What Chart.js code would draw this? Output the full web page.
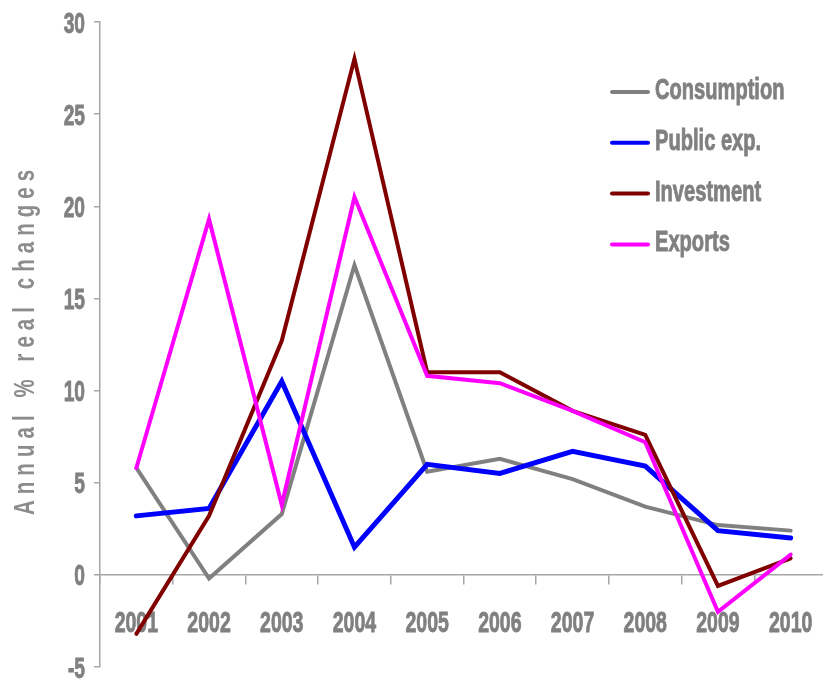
<!DOCTYPE html>
<html>
<head>
<meta charset="utf-8">
<script src="https://cdn.jsdelivr.net/npm/chart.js@4"></script>
<style>
  html, body { margin: 0; padding: 0; overflow: hidden; background: #fff; }
  canvas { display: block; }
</style>
</head>
<body>
<canvas id="c" width="840" height="679"></canvas>
<script>
// Annual % real changes of demand components, 2001-2010
const years = ['2001', '2002', '2003', '2004', '2005', '2006', '2007', '2008', '2009', '2010'];
const consumption = [5.8, -0.2, 3.3, 16.8, 5.6, 6.3, 5.2, 3.7, 2.7, 2.4];
const publicExp   = [3.2, 3.6, 10.5, 1.5, 6.0, 5.5, 6.7, 5.9, 2.4, 2.0];
const investment  = [-3.2, 3.2, 12.7, 28.0, 11.0, 11.0, 8.9, 7.6, -0.6, 0.9];
const exportsData = [5.8, 19.3, 3.8, 20.5, 10.8, 10.4, 8.9, 7.2, -2.0, 1.1];
const yMin = -5, yMax = 30, yStep = 5;
const yTitle = 'Annual % real changes';

const TEXT_GREY = '#808080';
const AXIS_GREY = '#a6a6a6';
const BOLD_FONT = 'bold 30px "Liberation Sans", Arial, sans-serif';

// Draw text squeezed horizontally (narrow heavy look)
function condensed(ctx, text, x, y, sx, align) {
  ctx.save();
  ctx.translate(x, y);
  ctx.scale(sx, 1);
  ctx.textAlign = align;
  ctx.textBaseline = 'alphabetic';
  ctx.fillText(text, 0, 0);
  ctx.strokeStyle = ctx.fillStyle;
  ctx.lineWidth = 0.9;
  ctx.strokeText(text, 0, 0);
  ctx.restore();
}

const axisText = {
  id: 'axisText',
  beforeDatasetsDraw(chart) {
    const ctx = chart.ctx;
    const xs = chart.scales.x, ys = chart.scales.y;
    const zeroY = ys.getPixelForValue(0);
    ctx.save();
    ctx.fillStyle = TEXT_GREY;
    ctx.font = BOLD_FONT;
    // value labels on the y axis
    ys.ticks.forEach(t => {
      condensed(ctx, String(t.value), 85, ys.getPixelForValue(t.value) + 10.5, 0.64, 'right');
    });
    // year labels below the zero line
    chart.data.labels.forEach((lab, i) => {
      condensed(ctx, lab, xs.getPixelForValue(i), zeroY + 57, 0.65, 'center');
    });
    // rotated, widely spaced axis title with narrow glyphs
    ctx.font = BOLD_FONT;
    ctx.fillStyle = '#8c8c8c';
    ctx.translate(33.5, 515);
    ctx.rotate(-Math.PI / 2);
    ctx.textAlign = 'left';
    ctx.textBaseline = 'alphabetic';
    const squeeze = 0.68;
    const chars = Array.from(yTitle);
    const widths = chars.map(ch => ctx.measureText(ch).width * squeeze);
    const total = 345;
    const gap = (total - widths.reduce((a, b) => a + b, 0)) / (chars.length - 1);
    let pos = 0;
    chars.forEach((ch, i) => {
      ctx.save();
      ctx.translate(pos, 0);
      ctx.scale(squeeze, 1);
      ctx.fillText(ch, 0, 0);
      ctx.restore();
      pos += widths[i] + gap;
    });
    ctx.restore();
  },
  afterDraw(chart) {
    // legend in the upper right corner
    const ctx = chart.ctx;
    ctx.save();
    chart.data.datasets.forEach((ds, i) => {
      const y = 92 + i * 50.8;
      ctx.strokeStyle = ds.borderColor;
      ctx.lineWidth = 4;
      ctx.lineCap = 'round';
      ctx.beginPath();
      ctx.moveTo(612, y);
      ctx.lineTo(648, y);
      ctx.stroke();
      ctx.fillStyle = TEXT_GREY;
      ctx.font = BOLD_FONT;
      condensed(ctx, ds.label, 655, y + 7, 0.67, 'left');
    });
    ctx.restore();
  }
};

new Chart(document.getElementById('c'), {
  type: 'line',
  data: {
    labels: years,
    datasets: [
      { label: 'Consumption', data: consumption, borderColor: '#808080', borderWidth: 4, order: 4 },
      { label: 'Public exp.', data: publicExp, borderColor: '#0000ff', borderWidth: 5, order: 3 },
      { label: 'Investment', data: investment, borderColor: '#800000', borderWidth: 4, order: 2 },
      { label: 'Exports', data: exportsData, borderColor: '#ff00ff', borderWidth: 4, order: 1 }
    ]
  },
  options: {
    responsive: false,
    animation: false,
    devicePixelRatio: 1,
    layout: { padding: { left: 94, top: 22, right: 13, bottom: 12 } },
    elements: {
      point: { radius: 0, hoverRadius: 0 },
      line: { tension: 0, fill: false, borderCapStyle: 'round', borderJoinStyle: 'miter' }
    },
    plugins: { legend: { display: false }, tooltip: { enabled: false } },
    scales: {
      x: {
        type: 'category',
        offset: true,
        position: { y: 0 },
        grid: { offset: true, drawOnChartArea: false, drawTicks: true, tickLength: 9, color: AXIS_GREY, lineWidth: 1.5 },
        border: { display: true, color: AXIS_GREY, width: 1.5 },
        ticks: { display: false }
      },
      y: {
        min: yMin,
        max: yMax,
        grid: { drawOnChartArea: false, drawTicks: true, tickLength: 6, color: AXIS_GREY, lineWidth: 1.5 },
        border: { display: true, color: AXIS_GREY, width: 1.5 },
        ticks: { display: false, stepSize: yStep }
      }
    }
  },
  plugins: [axisText]
});
</script>
</body>
</html>
